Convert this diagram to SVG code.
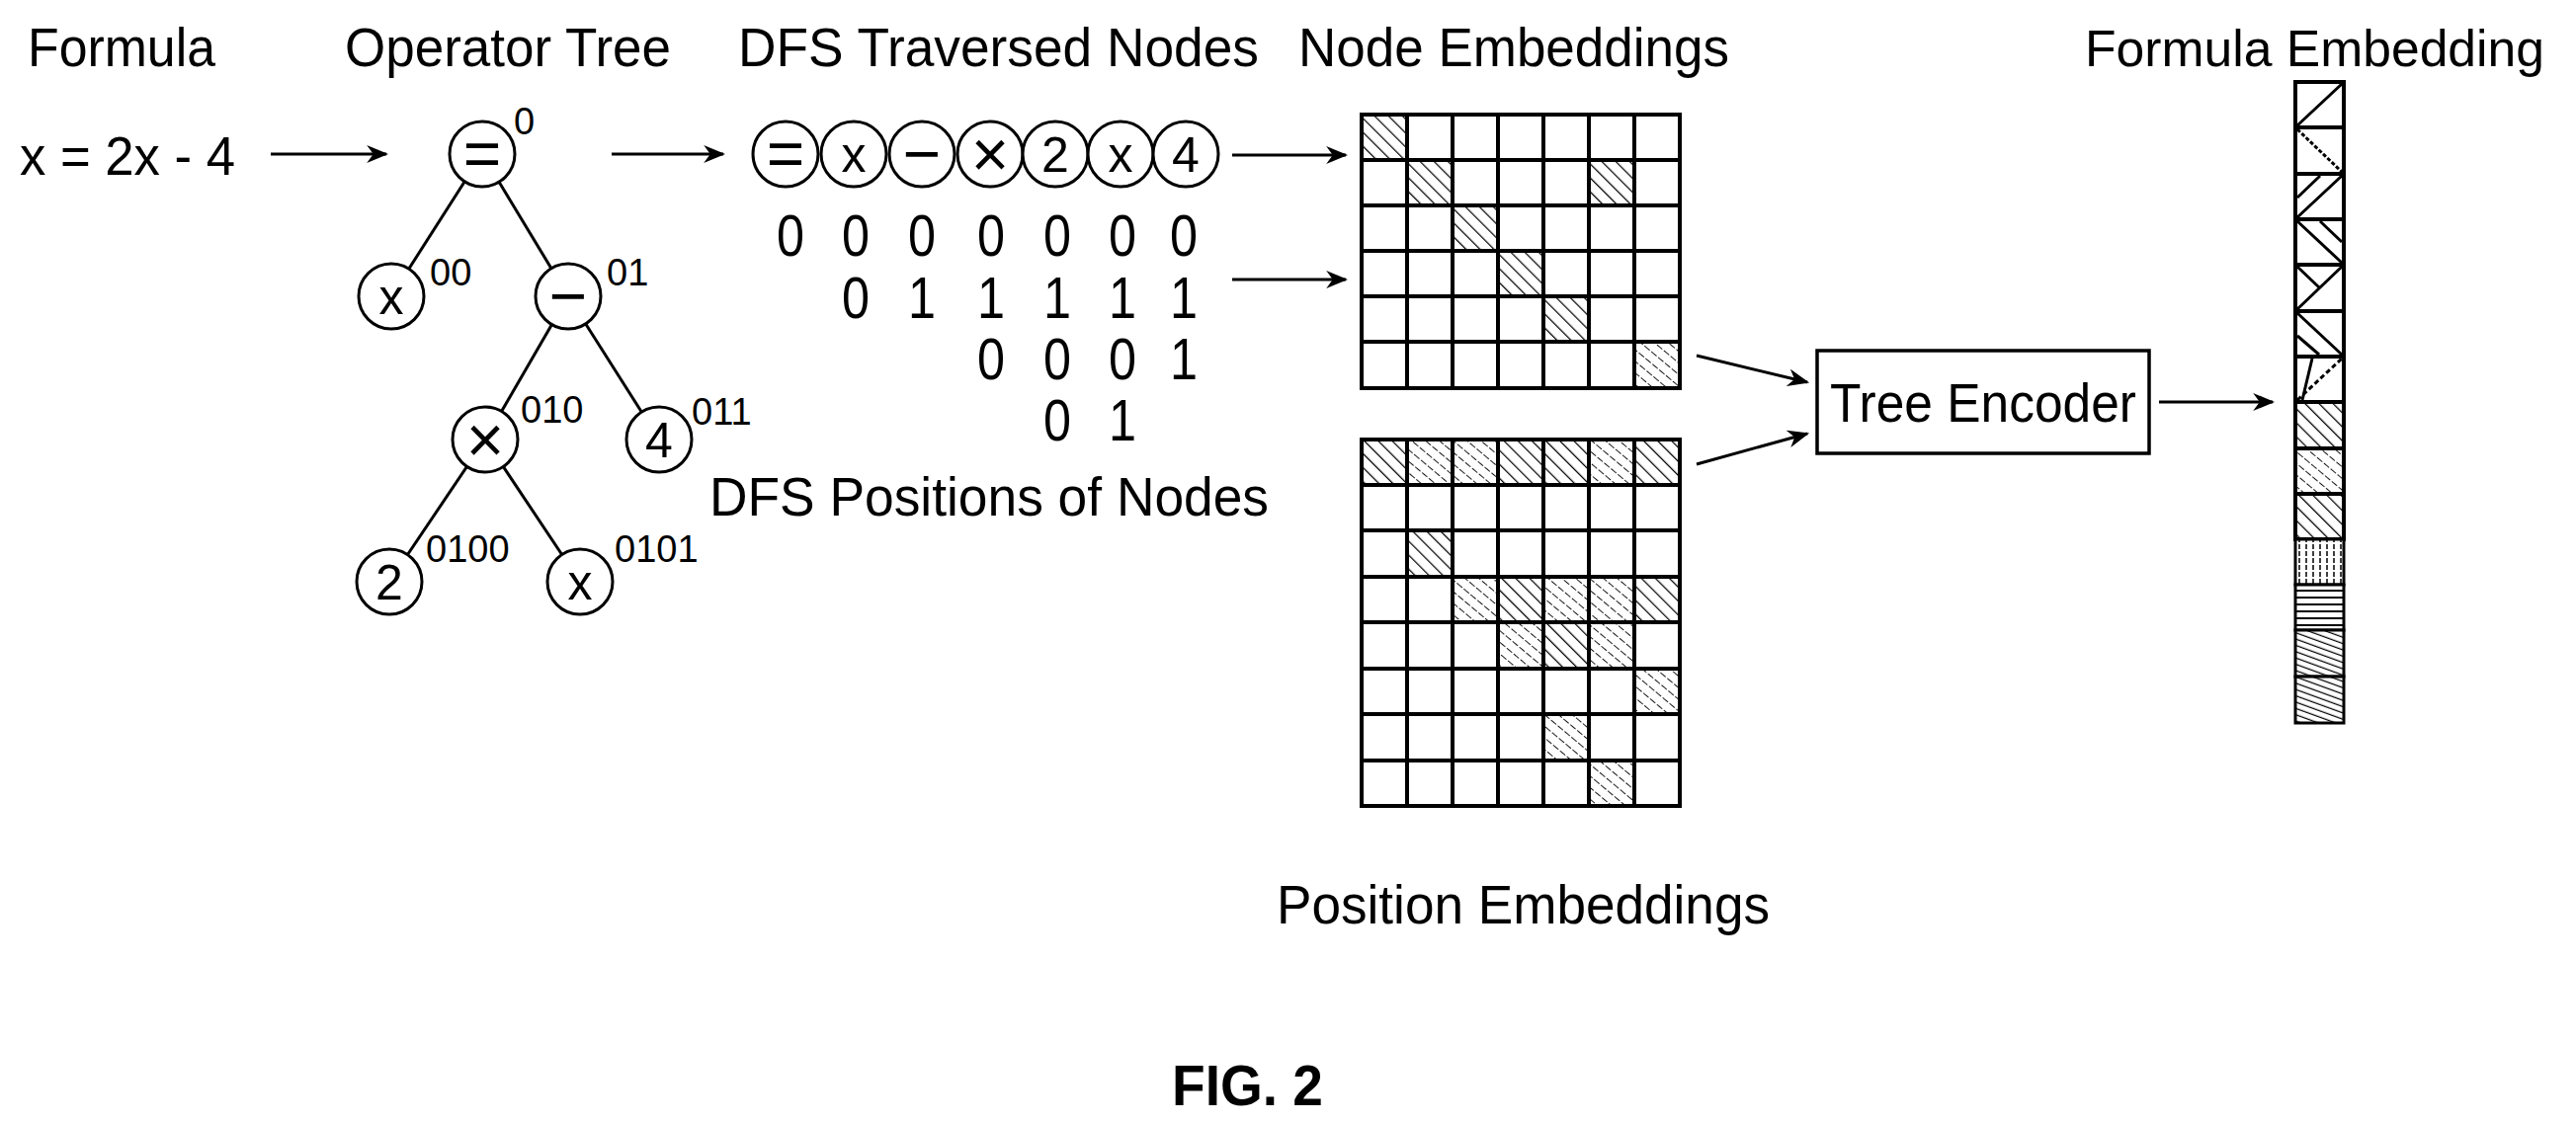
<svg xmlns="http://www.w3.org/2000/svg" width="2607" height="1136" viewBox="0 0 2607 1136">
<style>
text{font-family:"Liberation Sans",Arial,sans-serif;fill:#000}
.h{font-size:56px}
.s{font-size:38px}
.d{font-size:60px;text-anchor:middle}
.c{font-size:50px;text-anchor:middle}
.op{font-size:66px;text-anchor:middle}
.ln{stroke:#000;stroke-width:3;fill:none}
.nd{stroke:#000;stroke-width:3;fill:#fff}
.cell{stroke:#000;stroke-width:4;fill:#fff}
.hat{stroke:#000;stroke-width:4;fill:url(#hatch)}
.hat2{stroke:#000;stroke-width:4;fill:url(#hatch2)}
</style>
<defs>
<marker id="ar" viewBox="0 0 10 10" refX="9" refY="5" markerWidth="22" markerHeight="18" markerUnits="userSpaceOnUse" orient="auto" preserveAspectRatio="none">
<path d="M0,0 L10,5 L0,10 L3,5 z" fill="#000"/>
</marker>
<pattern id="hatch" width="10" height="10" patternUnits="userSpaceOnUse" patternTransform="rotate(-45)">
<rect width="10" height="10" fill="#fff"/><line x1="0" y1="0" x2="0" y2="10" stroke="#000" stroke-width="2.5"/>
</pattern>
<pattern id="hatch2" width="9" height="9" patternUnits="userSpaceOnUse" patternTransform="rotate(-50)">
<rect width="9" height="9" fill="#fff"/><line x1="0" y1="0" x2="0" y2="9" stroke="#000" stroke-width="1.8" stroke-dasharray="4 2"/>
</pattern>
<pattern id="vert" width="7" height="7" patternUnits="userSpaceOnUse">
<rect width="7" height="7" fill="#fff"/><line x1="3" y1="0" x2="3" y2="7" stroke="#000" stroke-width="1.5" stroke-dasharray="3 2"/>
</pattern>
<pattern id="horz" width="7" height="7" patternUnits="userSpaceOnUse">
<rect width="7" height="7" fill="#fff"/><line x1="0" y1="3" x2="7" y2="3" stroke="#000" stroke-width="2"/>
</pattern>
<pattern id="dense" width="6" height="6" patternUnits="userSpaceOnUse" patternTransform="rotate(-70)">
<rect width="6" height="6" fill="#fff"/><line x1="0" y1="0" x2="0" y2="6" stroke="#000" stroke-width="2.5"/>
</pattern>
</defs>

<g id="titles">
<text class="h" x="28" y="67" textLength="190" lengthAdjust="spacingAndGlyphs">Formula</text>
<text class="h" x="349" y="67" textLength="330" lengthAdjust="spacingAndGlyphs">Operator Tree</text>
<text class="h" x="747" y="67" textLength="527" lengthAdjust="spacingAndGlyphs">DFS Traversed Nodes</text>
<text class="h" x="1314" y="67" textLength="436" lengthAdjust="spacingAndGlyphs">Node Embeddings</text>
<text x="2110" y="67" style="font-size:52px" textLength="465" lengthAdjust="spacingAndGlyphs">Formula Embedding</text>
<text class="h" x="718" y="522" textLength="566" lengthAdjust="spacingAndGlyphs">DFS Positions of Nodes</text>
<text class="h" x="1292" y="935" textLength="499" lengthAdjust="spacingAndGlyphs">Position Embeddings</text>
<text x="1186" y="1119" style="font-size:58px;font-weight:bold" textLength="153" lengthAdjust="spacingAndGlyphs">FIG. 2</text>
</g>

<g id="formula"><text class="h" x="20" y="177" textLength="218" lengthAdjust="spacingAndGlyphs">x = 2x - 4</text></g>

<g id="connectors">
<line class="ln" x1="274" y1="156" x2="391" y2="156" marker-end="url(#ar)"/>
<line class="ln" x1="619" y1="156" x2="732" y2="156" marker-end="url(#ar)"/>
<line class="ln" x1="1247" y1="157" x2="1362" y2="157" marker-end="url(#ar)"/>
<line class="ln" x1="1247" y1="283" x2="1362" y2="283" marker-end="url(#ar)"/>
<line class="ln" x1="1717" y1="360" x2="1829" y2="387" marker-end="url(#ar)"/>
<line class="ln" x1="1717" y1="470" x2="1829" y2="439" marker-end="url(#ar)"/>
<line class="ln" x1="2185" y1="407" x2="2300" y2="407" marker-end="url(#ar)"/>
<line class="ln" x1="488" y1="156" x2="396" y2="300"/>
<line class="ln" x1="488" y1="156" x2="575" y2="300"/>
<line class="ln" x1="575" y1="300" x2="491" y2="445"/>
<line class="ln" x1="575" y1="300" x2="667" y2="445"/>
<line class="ln" x1="491" y1="445" x2="394" y2="589"/>
<line class="ln" x1="491" y1="445" x2="587" y2="589"/>
</g>

<g id="tree">
<g id="t-root"><circle class="nd" cx="488" cy="156" r="33"/><text class="op" x="488" y="178">=</text><text class="s" x="520" y="136">0</text></g>
<g id="t-x1"><circle class="nd" cx="396" cy="300" r="33"/><text class="c" x="396" y="318">x</text><text class="s" x="435" y="289">00</text></g>
<g id="t-minus"><circle class="nd" cx="575" cy="300" r="33"/><text class="op" x="575" y="322">−</text><text class="s" x="614" y="289">01</text></g>
<g id="t-times"><circle class="nd" cx="491" cy="445" r="33"/><text class="op" x="491" y="468">×</text><text class="s" x="527" y="428">010</text></g>
<g id="t-4"><circle class="nd" cx="667" cy="445" r="33"/><text class="c" x="667" y="463">4</text><text class="s" x="700" y="430">011</text></g>
<g id="t-2"><circle class="nd" cx="394" cy="589" r="33"/><text class="c" x="394" y="607">2</text><text class="s" x="431" y="569">0100</text></g>
<g id="t-x2"><circle class="nd" cx="587" cy="589" r="33"/><text class="c" x="587" y="607">x</text><text class="s" x="622" y="569">0101</text></g>
</g>

<g id="dfs-nodes">
<circle class="nd" cx="795" cy="156" r="33"/><text class="op" x="795" y="178">=</text>
<circle class="nd" cx="864" cy="156" r="33"/><text class="c" x="864" y="174">x</text>
<circle class="nd" cx="933" cy="156" r="33"/><text class="op" x="933" y="178">−</text>
<circle class="nd" cx="1002" cy="156" r="33"/><text class="op" x="1002" y="179">×</text>
<circle class="nd" cx="1068" cy="156" r="33"/><text class="c" x="1068" y="174">2</text>
<circle class="nd" cx="1134" cy="156" r="33"/><text class="c" x="1134" y="174">x</text>
<circle class="nd" cx="1200" cy="156" r="33"/><text class="c" x="1200" y="174">4</text>
</g>

<g id="dfs-positions">
<text class="d" x="800" y="259" textLength="28" lengthAdjust="spacingAndGlyphs">0</text>
<text class="d" x="866" y="259" textLength="28" lengthAdjust="spacingAndGlyphs">0</text>
<text class="d" x="933" y="259" textLength="28" lengthAdjust="spacingAndGlyphs">0</text>
<text class="d" x="1003" y="259" textLength="28" lengthAdjust="spacingAndGlyphs">0</text>
<text class="d" x="1070" y="259" textLength="28" lengthAdjust="spacingAndGlyphs">0</text>
<text class="d" x="1136" y="259" textLength="28" lengthAdjust="spacingAndGlyphs">0</text>
<text class="d" x="1198" y="259" textLength="28" lengthAdjust="spacingAndGlyphs">0</text>
<text class="d" x="866" y="322" textLength="28" lengthAdjust="spacingAndGlyphs">0</text>
<text class="d" x="933" y="322" textLength="28" lengthAdjust="spacingAndGlyphs">1</text>
<text class="d" x="1003" y="322" textLength="28" lengthAdjust="spacingAndGlyphs">1</text>
<text class="d" x="1070" y="322" textLength="28" lengthAdjust="spacingAndGlyphs">1</text>
<text class="d" x="1136" y="322" textLength="28" lengthAdjust="spacingAndGlyphs">1</text>
<text class="d" x="1198" y="322" textLength="28" lengthAdjust="spacingAndGlyphs">1</text>
<text class="d" x="1003" y="384" textLength="28" lengthAdjust="spacingAndGlyphs">0</text>
<text class="d" x="1070" y="384" textLength="28" lengthAdjust="spacingAndGlyphs">0</text>
<text class="d" x="1136" y="384" textLength="28" lengthAdjust="spacingAndGlyphs">0</text>
<text class="d" x="1198" y="384" textLength="28" lengthAdjust="spacingAndGlyphs">1</text>
<text class="d" x="1070" y="446" textLength="28" lengthAdjust="spacingAndGlyphs">0</text>
<text class="d" x="1136" y="446" textLength="28" lengthAdjust="spacingAndGlyphs">1</text>
</g>

<g id="node-embeddings">
<rect class="hat" x="1378" y="116" width="46" height="46"/><rect class="cell" x="1424" y="116" width="46" height="46"/><rect class="cell" x="1470" y="116" width="46" height="46"/><rect class="cell" x="1516" y="116" width="46" height="46"/><rect class="cell" x="1562" y="116" width="46" height="46"/><rect class="cell" x="1608" y="116" width="46" height="46"/><rect class="cell" x="1654" y="116" width="46" height="46"/>
<rect class="cell" x="1378" y="162" width="46" height="46"/><rect class="hat" x="1424" y="162" width="46" height="46"/><rect class="cell" x="1470" y="162" width="46" height="46"/><rect class="cell" x="1516" y="162" width="46" height="46"/><rect class="cell" x="1562" y="162" width="46" height="46"/><rect class="hat" x="1608" y="162" width="46" height="46"/><rect class="cell" x="1654" y="162" width="46" height="46"/>
<rect class="cell" x="1378" y="208" width="46" height="46"/><rect class="cell" x="1424" y="208" width="46" height="46"/><rect class="hat" x="1470" y="208" width="46" height="46"/><rect class="cell" x="1516" y="208" width="46" height="46"/><rect class="cell" x="1562" y="208" width="46" height="46"/><rect class="cell" x="1608" y="208" width="46" height="46"/><rect class="cell" x="1654" y="208" width="46" height="46"/>
<rect class="cell" x="1378" y="254" width="46" height="46"/><rect class="cell" x="1424" y="254" width="46" height="46"/><rect class="cell" x="1470" y="254" width="46" height="46"/><rect class="hat" x="1516" y="254" width="46" height="46"/><rect class="cell" x="1562" y="254" width="46" height="46"/><rect class="cell" x="1608" y="254" width="46" height="46"/><rect class="cell" x="1654" y="254" width="46" height="46"/>
<rect class="cell" x="1378" y="300" width="46" height="46"/><rect class="cell" x="1424" y="300" width="46" height="46"/><rect class="cell" x="1470" y="300" width="46" height="46"/><rect class="cell" x="1516" y="300" width="46" height="46"/><rect class="hat" x="1562" y="300" width="46" height="46"/><rect class="cell" x="1608" y="300" width="46" height="46"/><rect class="cell" x="1654" y="300" width="46" height="46"/>
<rect class="cell" x="1378" y="346" width="46" height="47"/><rect class="cell" x="1424" y="346" width="46" height="47"/><rect class="cell" x="1470" y="346" width="46" height="47"/><rect class="cell" x="1516" y="346" width="46" height="47"/><rect class="cell" x="1562" y="346" width="46" height="47"/><rect class="cell" x="1608" y="346" width="46" height="47"/><rect class="hat2" x="1654" y="346" width="46" height="47"/>
</g>

<g id="position-embeddings">
<rect class="hat" x="1378" y="445" width="46" height="46"/><rect class="hat2" x="1424" y="445" width="46" height="46"/><rect class="hat2" x="1470" y="445" width="46" height="46"/><rect class="hat" x="1516" y="445" width="46" height="46"/><rect class="hat" x="1562" y="445" width="46" height="46"/><rect class="hat2" x="1608" y="445" width="46" height="46"/><rect class="hat" x="1654" y="445" width="46" height="46"/>
<rect class="cell" x="1378" y="491" width="46" height="46"/><rect class="cell" x="1424" y="491" width="46" height="46"/><rect class="cell" x="1470" y="491" width="46" height="46"/><rect class="cell" x="1516" y="491" width="46" height="46"/><rect class="cell" x="1562" y="491" width="46" height="46"/><rect class="cell" x="1608" y="491" width="46" height="46"/><rect class="cell" x="1654" y="491" width="46" height="46"/>
<rect class="cell" x="1378" y="537" width="46" height="47"/><rect class="hat" x="1424" y="537" width="46" height="47"/><rect class="cell" x="1470" y="537" width="46" height="47"/><rect class="cell" x="1516" y="537" width="46" height="47"/><rect class="cell" x="1562" y="537" width="46" height="47"/><rect class="cell" x="1608" y="537" width="46" height="47"/><rect class="cell" x="1654" y="537" width="46" height="47"/>
<rect class="cell" x="1378" y="584" width="46" height="46"/><rect class="cell" x="1424" y="584" width="46" height="46"/><rect class="hat2" x="1470" y="584" width="46" height="46"/><rect class="hat" x="1516" y="584" width="46" height="46"/><rect class="hat2" x="1562" y="584" width="46" height="46"/><rect class="hat2" x="1608" y="584" width="46" height="46"/><rect class="hat" x="1654" y="584" width="46" height="46"/>
<rect class="cell" x="1378" y="630" width="46" height="47"/><rect class="cell" x="1424" y="630" width="46" height="47"/><rect class="cell" x="1470" y="630" width="46" height="47"/><rect class="hat2" x="1516" y="630" width="46" height="47"/><rect class="hat" x="1562" y="630" width="46" height="47"/><rect class="hat2" x="1608" y="630" width="46" height="47"/><rect class="cell" x="1654" y="630" width="46" height="47"/>
<rect class="cell" x="1378" y="677" width="46" height="46"/><rect class="cell" x="1424" y="677" width="46" height="46"/><rect class="cell" x="1470" y="677" width="46" height="46"/><rect class="cell" x="1516" y="677" width="46" height="46"/><rect class="cell" x="1562" y="677" width="46" height="46"/><rect class="cell" x="1608" y="677" width="46" height="46"/><rect class="hat2" x="1654" y="677" width="46" height="46"/>
<rect class="cell" x="1378" y="723" width="46" height="47"/><rect class="cell" x="1424" y="723" width="46" height="47"/><rect class="cell" x="1470" y="723" width="46" height="47"/><rect class="cell" x="1516" y="723" width="46" height="47"/><rect class="hat2" x="1562" y="723" width="46" height="47"/><rect class="cell" x="1608" y="723" width="46" height="47"/><rect class="cell" x="1654" y="723" width="46" height="47"/>
<rect class="cell" x="1378" y="770" width="46" height="46"/><rect class="cell" x="1424" y="770" width="46" height="46"/><rect class="cell" x="1470" y="770" width="46" height="46"/><rect class="cell" x="1516" y="770" width="46" height="46"/><rect class="cell" x="1562" y="770" width="46" height="46"/><rect class="hat2" x="1608" y="770" width="46" height="46"/><rect class="cell" x="1654" y="770" width="46" height="46"/>
</g>

<g id="tree-encoder">
<rect x="1839" y="355" width="336" height="104" fill="#fff" stroke="#000" stroke-width="3.5"/>
<text class="h" x="2007" y="427" text-anchor="middle" textLength="310" lengthAdjust="spacingAndGlyphs">Tree Encoder</text>
</g>

<g id="formula-embedding">
<rect class="cell" x="2323" y="83" width="49" height="46"/><line class="ln" x1="2325" y1="127" x2="2370" y2="85" stroke-width="2"/>
<rect class="cell" x="2323" y="129" width="49" height="47"/><line class="ln" x1="2325" y1="131" x2="2370" y2="174" stroke-width="2" stroke-dasharray="4 2"/>
<rect class="cell" x="2323" y="176" width="49" height="46"/><line class="ln" x1="2325" y1="220" x2="2370" y2="178" stroke-width="2"/><line class="ln" x1="2325" y1="200" x2="2348" y2="178" stroke-width="2"/>
<rect class="cell" x="2323" y="222" width="49" height="46"/><line class="ln" x1="2325" y1="224" x2="2370" y2="266" stroke-width="2"/><line class="ln" x1="2348" y1="224" x2="2370" y2="245" stroke-width="2"/>
<rect class="cell" x="2323" y="268" width="49" height="47"/><line class="ln" x1="2325" y1="313" x2="2370" y2="270" stroke-width="2"/><line class="ln" x1="2325" y1="270" x2="2347" y2="291" stroke-width="2"/>
<rect class="cell" x="2323" y="315" width="49" height="46"/><line class="ln" x1="2325" y1="317" x2="2370" y2="359" stroke-width="2"/><line class="ln" x1="2325" y1="340" x2="2347" y2="359" stroke-width="2"/>
<rect class="cell" x="2323" y="361" width="49" height="46"/><line class="ln" x1="2325" y1="405" x2="2370" y2="363" stroke-width="2" stroke-dasharray="5 3"/><line class="ln" x1="2340" y1="363" x2="2330" y2="405" stroke-width="2"/>
<rect class="hat" x="2323" y="407" width="49" height="47"/>
<rect class="hat2" x="2323" y="454" width="49" height="46"/>
<rect class="hat" x="2323" y="500" width="49" height="46"/>
<rect x="2323" y="546" width="49" height="46" fill="url(#vert)" stroke="#000" stroke-width="3"/>
<rect x="2323" y="592" width="49" height="46" fill="url(#horz)" stroke="#000" stroke-width="3"/>
<rect x="2323" y="638" width="49" height="47" fill="url(#dense)" stroke="#000" stroke-width="3"/>
<rect x="2323" y="685" width="49" height="47" fill="url(#dense)" stroke="#000" stroke-width="3"/>
</g>
</svg>
